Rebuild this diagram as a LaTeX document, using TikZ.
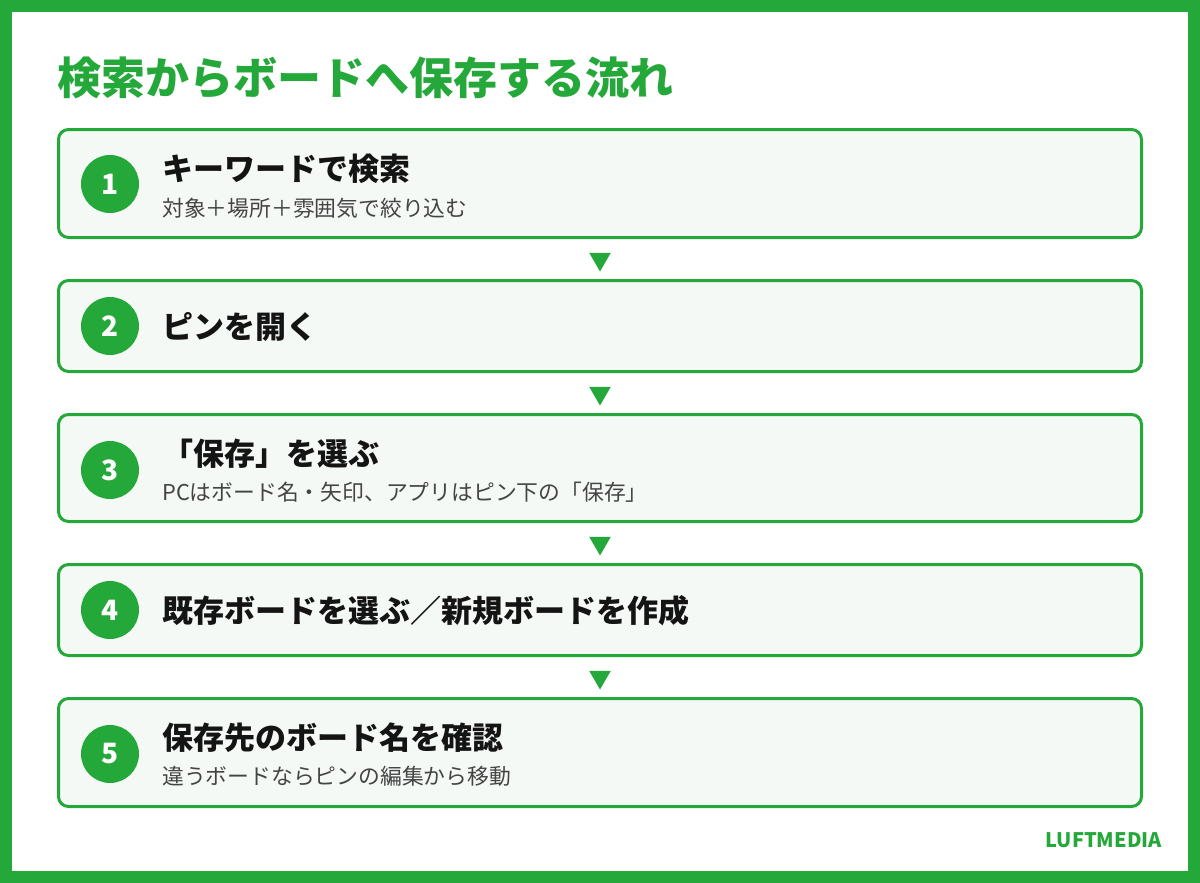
\documentclass[tikz,border=0pt]{standalone}
\usepackage{fontspec}
\setmainfont{Noto Sans CJK JP}
\usetikzlibrary{shapes.geometric}
\definecolor{lgreen}{HTML}{25A83A}
\definecolor{lfill}{HTML}{F5F9F6}
\definecolor{ink}{HTML}{141414}
\definecolor{subgray}{HTML}{444444}
\begin{document}
\begin{tikzpicture}[x=1pt,y=-1pt,
  stepbox/.style={draw=lgreen, line width=3pt, fill=lfill, rounded corners=10pt,
    minimum width=1083pt, anchor=north west, inner sep=0pt},
  numc/.style={circle, fill=lgreen, minimum size=58pt, inner sep=0pt, text=white,
    font=\bfseries\fontsize{28}{32}\selectfont},
  tri/.style={regular polygon, regular polygon sides=3, shape border rotate=180,
    fill=lgreen, minimum size=25pt, inner sep=0pt},
  ttl/.style={anchor=base west, inner sep=0pt, text=ink, font=\bfseries\fontsize{31}{34}\selectfont},
  sub/.style={anchor=base west, inner sep=0pt, text=subgray, font=\fontsize{21.8}{24}\selectfont},
]
\useasboundingbox (0,0) rectangle (1200,883);
\fill[lgreen] (0,0) rectangle (1200,883);
\fill[white] (12,12) rectangle (1188,871);

\node[anchor=base west, inner sep=0pt, text=lgreen, font=\bfseries\fontsize{44}{48}\selectfont] (title) at (57,95) {検索からボードへ保存する流れ};

\node[stepbox, minimum height=108pt] (b1) at (57,128) {};
\node[stepbox, minimum height=91pt] (b2) at (57,279) {};
\node[stepbox, minimum height=107pt] (b3) at (57,413) {};
\node[stepbox, minimum height=91pt] (b4) at (57,563) {};
\node[stepbox, minimum height=108pt] (b5) at (57,697) {};

\node[numc] (n1) at (110,184) {1};
\node[numc] (n2) at (110,326) {2};
\node[numc] (n3) at (110,470) {3};
\node[numc] (n4) at (110,610) {4};
\node[numc] (n5) at (110,754) {5};

\node[ttl] (h1) at (162,180) {キーワードで検索};
\node[sub] (s1) at (162,216.5) {対象＋場所＋雰囲気で絞り込む};
\node[ttl] (h2) at (162,338) {ピンを開く};
\node[ttl] (h3) at (162,465) {「保存」を選ぶ};
\node[sub] (s3) at (162,500.5) {PCはボード名・矢印、アプリはピン下の「保存」};
\node[ttl] (h4) at (162,622) {既存ボードを選ぶ／新規ボードを作成};
\node[ttl] (h5) at (162,749) {保存先のボード名を確認};
\node[sub] (s5) at (162,784.5) {違うボードならピンの編集から移動};

\node[tri] (t1) at (600,259) {};
\node[tri] (t2) at (600,393) {};
\node[tri] (t3) at (600,543) {};
\node[tri] (t4) at (600,677) {};

\node[anchor=base east, inner sep=0pt, text=lgreen, font=\bfseries\fontsize{20}{24}\selectfont] (logo) at (1162,847) {LUFTMEDIA};
\end{tikzpicture}
\end{document}
